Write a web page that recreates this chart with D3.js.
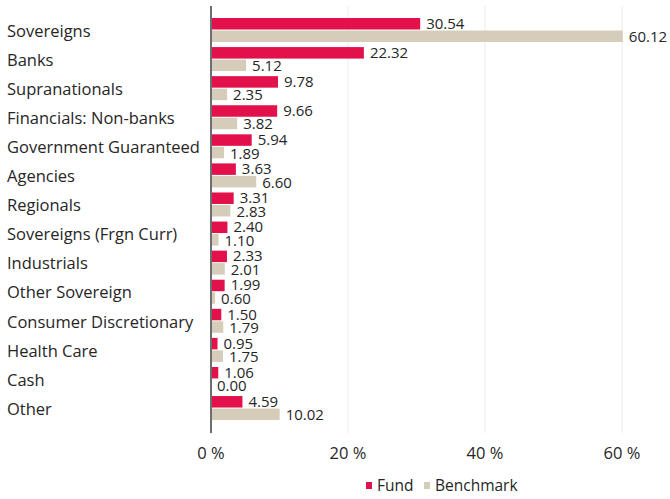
<!DOCTYPE html>
<html>
<head>
<meta charset="utf-8">
<script src="https://cdn.jsdelivr.net/npm/d3@7"></script>
<style>
  body { margin: 0; background: #fff; }
  text { font-family: "Open Sans", "Noto Sans", sans-serif; font-weight: 400; fill: #262626; }
</style>
</head>
<body>
<script>
// Sector weights (%)
const categories = ["Sovereigns", "Banks", "Supranationals", "Financials: Non-banks",
  "Government Guaranteed", "Agencies", "Regionals", "Sovereigns (Frgn Curr)",
  "Industrials", "Other Sovereign", "Consumer Discretionary", "Health Care", "Cash", "Other"];
const fundValues = [30.54, 22.32, 9.78, 9.66, 5.94, 3.63, 3.31, 2.40, 2.33, 1.99, 1.50, 0.95, 1.06, 4.59];
const benchValues = [60.12, 5.12, 2.35, 3.82, 1.89, 6.60, 2.83, 1.10, 2.01, 0.60, 1.79, 1.75, 0.00, 10.02];
const xTicks = [0, 20, 40, 60];
const seriesNames = ["Fund", "Benchmark"];

const width = 670, height = 499;
const fundColor = "#e2114b";
const benchColor = "#d5cdb9";

const svg = d3.select("body").append("svg")
  .attr("width", width)
  .attr("height", height);

// Scales
const x = d3.scaleLinear().domain([0, 60]).range([211, 622]);
const y = d3.scaleBand().domain(categories).range([12.5, 12.5 + 14 * 29.08]);
const barH = 11.5;

// Gridlines
svg.append("g")
  .selectAll("line")
  .data(xTicks.filter(d => d > 0))
  .join("line")
  .attr("x1", d => x(d)).attr("x2", d => x(d))
  .attr("y1", 6).attr("y2", 433)
  .attr("stroke", "#ececec")
  .attr("stroke-width", 1);

const rows = categories.map((c, i) => ({ cat: c, fund: fundValues[i], bench: benchValues[i] }));

// Fund bars
svg.append("g")
  .selectAll("rect")
  .data(rows)
  .join("rect")
  .attr("x", x(0))
  .attr("y", d => y(d.cat) + 5.5)
  .attr("width", d => x(d.fund) - x(0))
  .attr("height", barH)
  .attr("fill", fundColor);

// Benchmark bars
svg.append("g")
  .selectAll("rect")
  .data(rows)
  .join("rect")
  .attr("x", x(0))
  .attr("y", d => y(d.cat) + 18)
  .attr("width", d => x(d.bench) - x(0))
  .attr("height", barH)
  .attr("fill", benchColor);

// Value labels
const labels = svg.append("g").style("font-size", "15px");
labels.selectAll("text.f")
  .data(rows)
  .join("text")
  .attr("class", "f")
  .attr("x", d => x(d.fund) + 6)
  .attr("y", d => y(d.cat) + 5.5 + barH / 2 + 5)
  .text(d => d.fund.toFixed(2));
labels.selectAll("text.b")
  .data(rows)
  .join("text")
  .attr("class", "b")
  .attr("x", d => x(d.bench) + 6)
  .attr("y", d => y(d.cat) + 18 + barH / 2 + 6)
  .text(d => d.bench.toFixed(2));

// Category labels
svg.append("g")
  .selectAll("text")
  .data(categories)
  .join("text")
  .attr("x", 7)
  .attr("y", d => y(d) + 18.5)
  .attr("dy", "0.35em")
  .style("font-size", "16.5px")
  .text(d => d);

// Zero axis line
svg.append("line")
  .attr("x1", x(0)).attr("x2", x(0))
  .attr("y1", 6).attr("y2", 433)
  .attr("stroke", "#6e6e6e")
  .attr("stroke-width", 2);

// X tick labels
svg.append("g")
  .selectAll("text")
  .data(xTicks)
  .join("text")
  .attr("x", d => x(d))
  .attr("y", 459)
  .attr("text-anchor", "middle")
  .style("font-size", "16.5px")
  .text(d => d + " %");

// Legend
const legend = svg.append("g").attr("transform", "translate(366,486)");
const items = legend.selectAll("g")
  .data(seriesNames)
  .join("g")
  .attr("transform", (d, i) => `translate(${i === 0 ? 0 : 58},0)`);
items.append("rect")
  .attr("x", 0).attr("y", -4)
  .attr("width", 6).attr("height", 7)
  .attr("fill", (d, i) => i === 0 ? fundColor : benchColor);
items.append("text")
  .attr("x", 11)
  .attr("y", 0)
  .attr("dy", "0.35em")
  .style("font-size", "15.5px")
  .text(d => d);
</script>
</body>
</html>
